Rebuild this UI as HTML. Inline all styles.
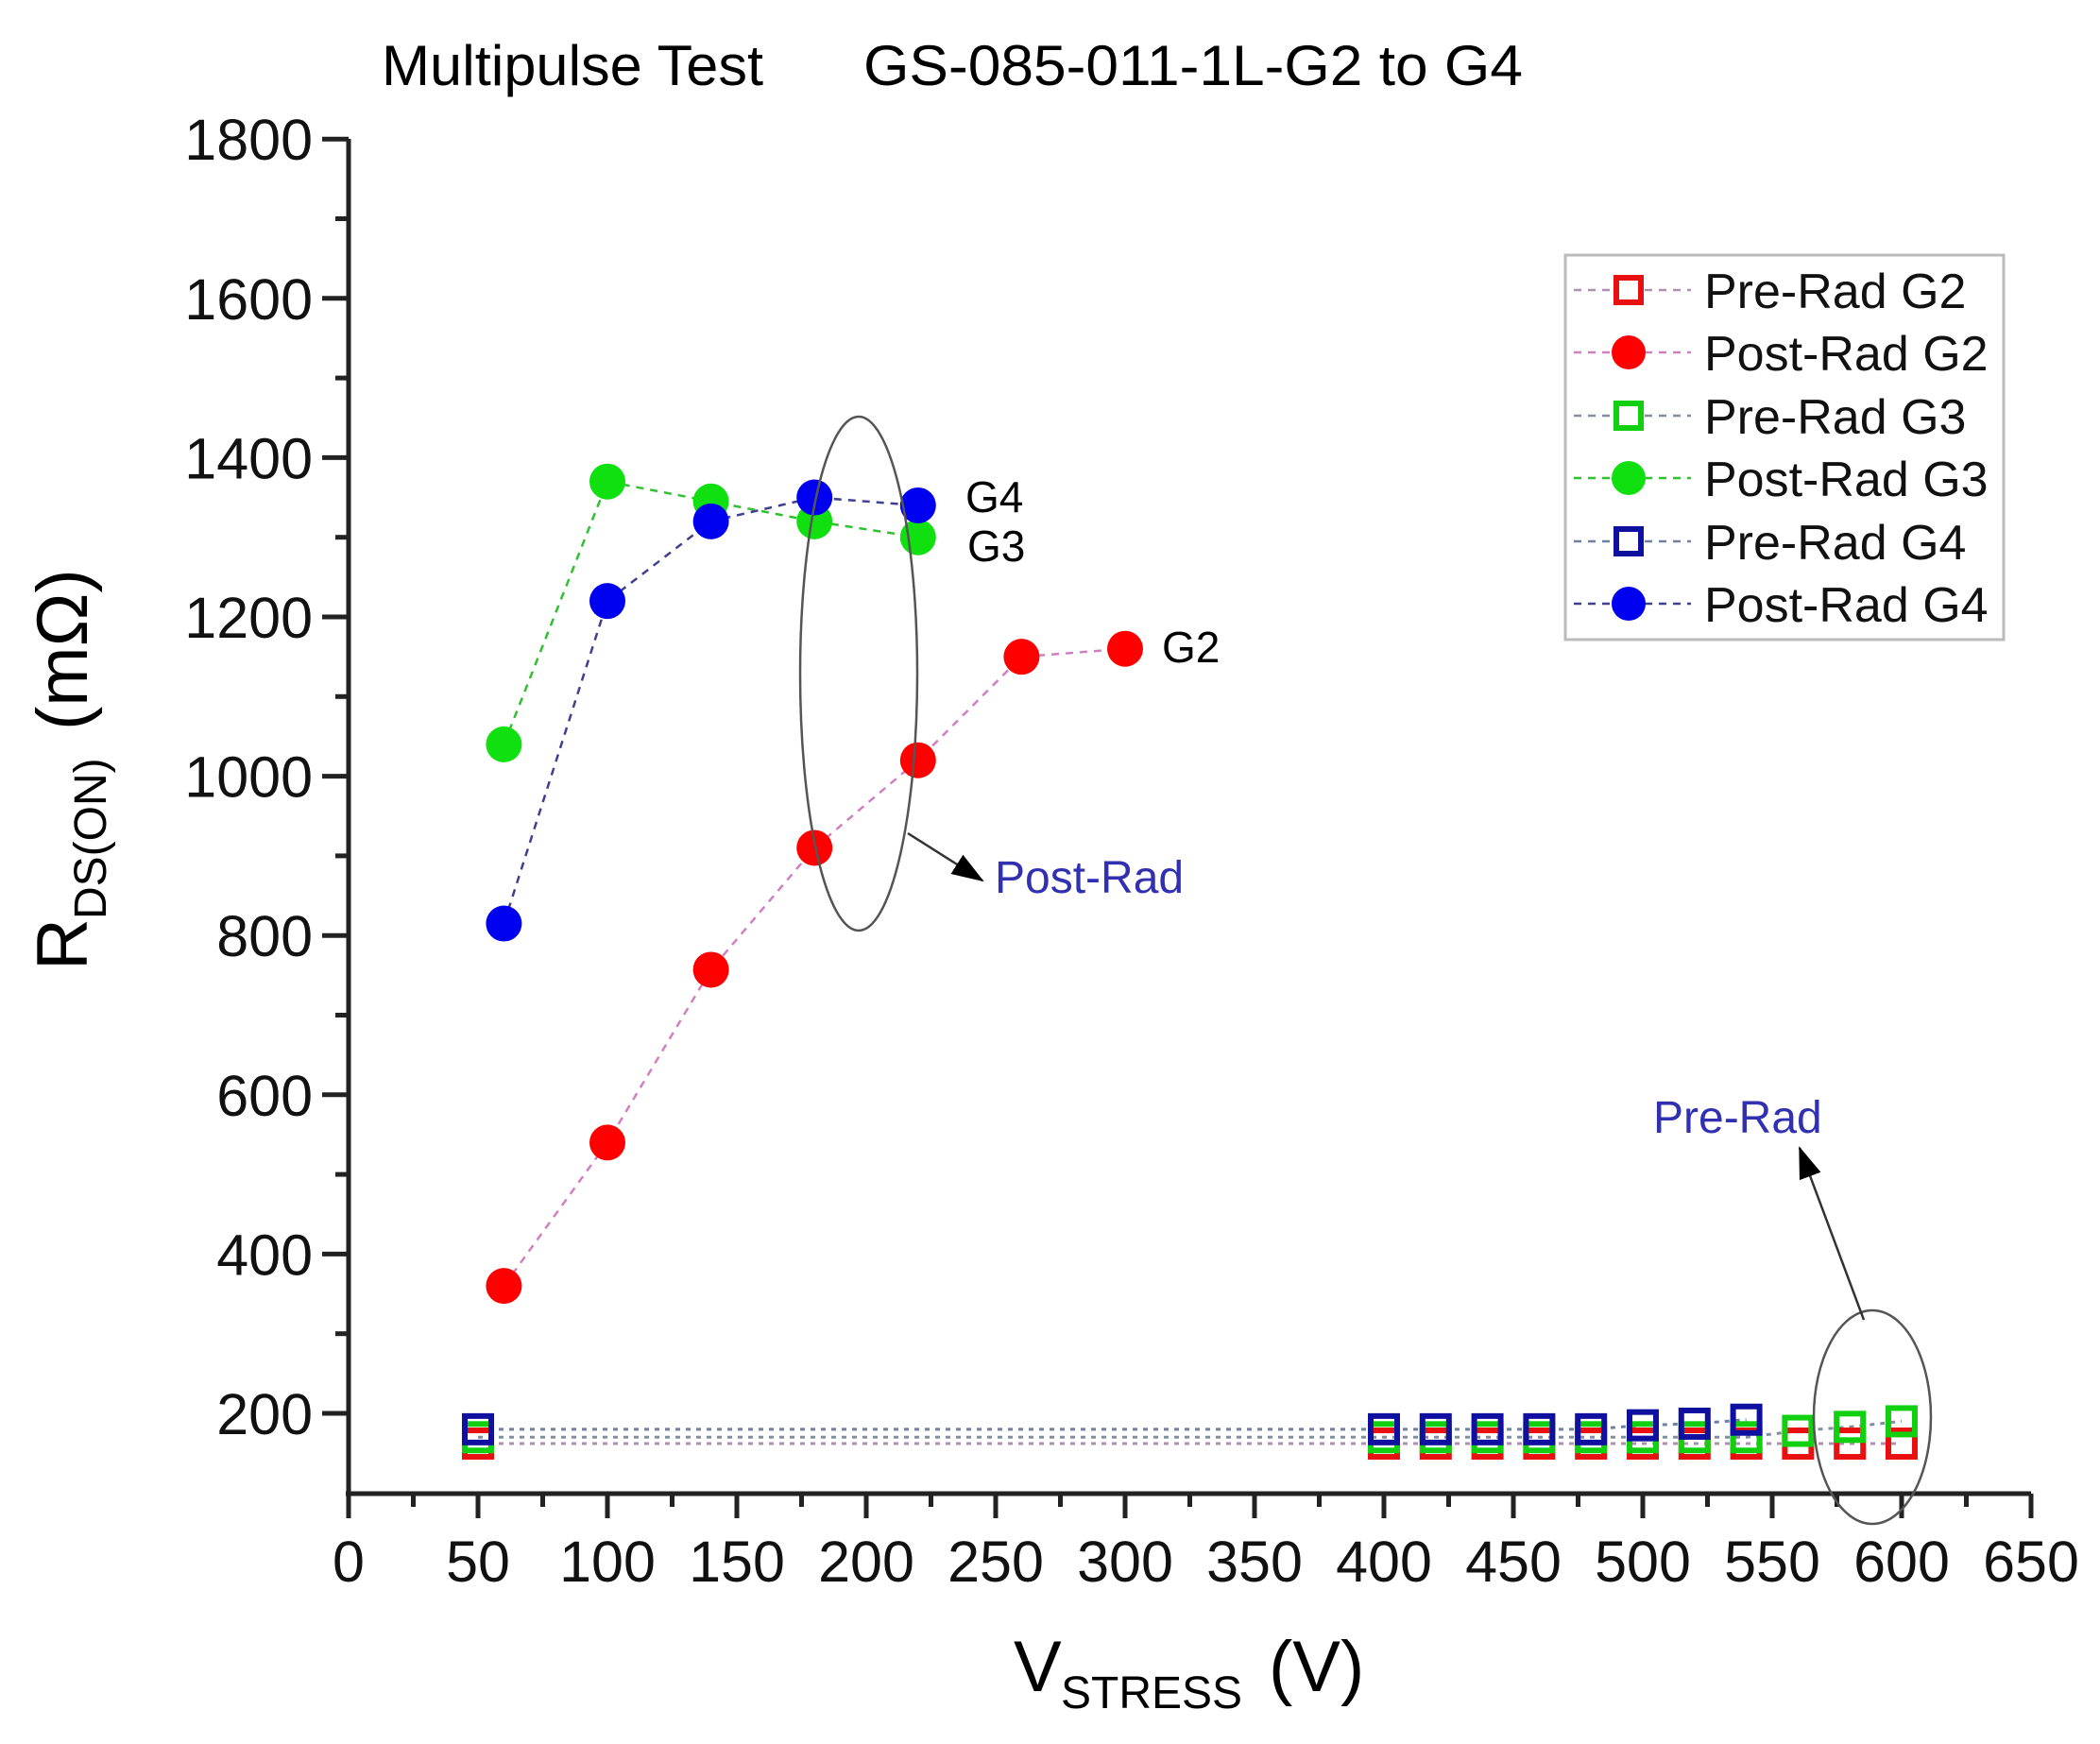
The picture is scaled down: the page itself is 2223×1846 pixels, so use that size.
<!DOCTYPE html>
<html><head><meta charset="utf-8"><style>html,body{margin:0;padding:0;background:#fff}svg{display:block}text{font-family:"Liberation Sans",Arial,sans-serif}</style></head><body>
<svg width="2223" height="1846" viewBox="0 0 2223 1846" xmlns="http://www.w3.org/2000/svg">
<defs><marker id="ah2" markerWidth="34" markerHeight="24" refX="32" refY="12" orient="auto" markerUnits="userSpaceOnUse"><path d="M0,0 L34,12 L0,24 z" fill="#000"/></marker></defs>
<text x="404" y="90" font-size="60" textLength="404" lengthAdjust="spacingAndGlyphs">Multipulse Test</text>
<text x="914" y="90" font-size="60" textLength="698" lengthAdjust="spacingAndGlyphs">GS-085-011-1L-G2  to G4</text>
<g stroke="#222" stroke-width="5" fill="none">
<line x1="369" y1="147" x2="369" y2="1584"/>
<line x1="366" y1="1581" x2="2150" y2="1581"/>
</g>
<g id="axes" stroke="#222" stroke-width="5"></g>
<g id="labels" font-size="61" fill="#111"></g>
<g transform="translate(92,1027) rotate(-90)">
<text x="0" y="0" font-size="76">R</text>
<text x="54" y="20" font-size="48">DS(ON)</text>
<text x="254" y="0" font-size="76">(mΩ)</text>
</g>
<text x="1073" y="1790" font-size="76">V</text>
<text x="1123" y="1808" font-size="48">STRESS</text>
<text x="1343" y="1790" font-size="76">(V)</text>
<g id="plot"></g>
<ellipse cx="909" cy="713" rx="62" ry="272" fill="none" stroke="#555" stroke-width="2.5"/>
<line x1="961" y1="882" x2="1040" y2="932" stroke="#333" stroke-width="2.5" marker-end="url(#ah2)"/>
<text x="1053" y="945" font-size="48" fill="#3030b0">Post-Rad</text>
<ellipse cx="1982" cy="1500" rx="62" ry="113" fill="none" stroke="#555" stroke-width="2.5"/>
<line x1="1973" y1="1397" x2="1905" y2="1215" stroke="#333" stroke-width="2.5" marker-end="url(#ah2)"/>
<text x="1750" y="1199" font-size="48" fill="#3030b0">Pre-Rad</text>
<text x="1022" y="542" font-size="46">G4</text>
<text x="1024" y="594" font-size="46">G3</text>
<text x="1230" y="701" font-size="46">G2</text>
<rect x="1657" y="270" width="464" height="407" fill="#fff" stroke="#bbb" stroke-width="3"/>
<g id="legend"></g>
<script>
const NS="http://www.w3.org/2000/svg";
function el(p,t,a,txt){const e=document.createElementNS(NS,t);for(const k in a)e.setAttribute(k,a[k]);if(txt!==undefined)e.textContent=txt;p.appendChild(e);return e;}
const X=v=>369+v*2.74, Y=v=>1496-(v-200)*0.843;
const ax=document.getElementById('axes'),lb=document.getElementById('labels');
for(let v=0;v<=650;v+=25){const maj=v%50==0;el(ax,'line',{x1:X(v),y1:1581,x2:X(v),y2:1581+(maj?26:14)});if(maj)el(lb,'text',{x:X(v),y:1674,'text-anchor':'middle'},v);}
for(let v=200;v<=1800;v+=100){const maj=v%200==0;el(ax,'line',{x1:369,y1:Y(v),x2:369-(maj?28:14),y2:Y(v)});if(maj)el(lb,'text',{x:331,y:Y(v)+22,'text-anchor':'end'},v);}
const pre=[50,400,420,440,460,480,500,520,540,560,580,600];
const series=[
{c:'#e81010',lc:'#b090b0',sq:1,pts:pre.map(x=>[x,162])},
{c:'#ff0000',lc:'#d080c0',sq:0,pts:[[60,360],[100,540],[140,757],[180,910],[220,1020],[260,1150],[300,1160]]},
{c:'#10d010',lc:'#8090a0',sq:1,pts:pre.map(x=>[x,x<560?170:(x==560?178:x==580?183:190)])},
{c:'#10e010',lc:'#30c030',sq:0,pts:[[60,1040],[100,1370],[140,1345],[180,1320],[220,1300]]},
{c:'#1010a0',lc:'#7080a0',sq:1,pts:pre.filter(x=>x<=540).map(x=>[x,x<500?180:(x==500?185:x==520?187:192)])},
{c:'#0000f0',lc:'#404090',sq:0,pts:[[60,815],[100,1220],[140,1320],[180,1350],[220,1340]]}];
const pl=document.getElementById('plot');
series.forEach(s=>{el(pl,'polyline',{points:s.pts.map(p=>X(p[0])+','+Y(p[1])).join(' '),fill:'none',stroke:s.lc,'stroke-width':s.sq?3:2.5,'stroke-dasharray':s.sq?'5 6':'8 7'});});
series.forEach(s=>{s.pts.forEach(p=>{if(s.sq)el(pl,'rect',{x:X(p[0])-14,y:Y(p[1])-14,width:28,height:28,fill:'none',stroke:s.c,'stroke-width':6});else el(pl,'circle',{cx:X(p[0]),cy:Y(p[1]),r:19,fill:s.c});});});
const names=['Pre-Rad G2','Post-Rad G2','Pre-Rad G3','Post-Rad G3','Pre-Rad G4','Post-Rad G4'];
const lg=document.getElementById('legend');const ly=[307,373,440,506,573,639];
series.forEach((s,i)=>{const y=ly[i];el(lg,'line',{x1:1666,y1:y,x2:1790,y2:y,stroke:s.lc,'stroke-width':2.5,'stroke-dasharray':'8 7'});
if(s.sq)el(lg,'rect',{x:1724-13,y:y-13,width:26,height:26,fill:'#fff',stroke:s.c,'stroke-width':6});else el(lg,'circle',{cx:1724,cy:y,r:18,fill:s.c});
el(lg,'text',{x:1804,y:y+19,'font-size':52,fill:'#111'},names[i]);});
</script>
</svg>
</body></html>
